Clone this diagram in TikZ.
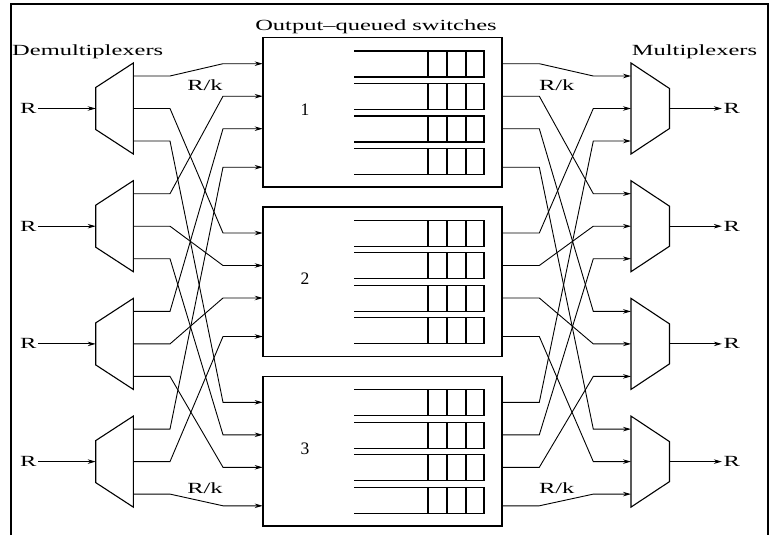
\documentclass[tikz,border=0pt]{standalone}
\usepackage{fontspec}
\setmainfont{Liberation Serif}
\usepackage{graphicx}
\usetikzlibrary{arrows.meta}

\newcommand{\wtext}[1]{\scalebox{1.58}[1]{#1}}

\begin{document}
\begin{tikzpicture}[x=1pt, y=-1pt, >={Stealth[length=8pt,width=4.5pt]},
        link/.style={->, line width=0.9pt},
        lbl/.style={inner sep=0pt, font=\fontsize{15.5}{18}\selectfont},
        switchbox/.style={draw, line width=1.6pt, minimum width=239.3pt, minimum height=149.5pt, inner sep=0pt}]
        \useasboundingbox (0,0) rectangle (770,535);

        \def\dmL{95.7}
        \def\dmR{133.3}
        \def\mxL{631}
        \def\mxR{669.5}
        \def\swL{262.7}
        \def\swR{502}
        \def\pitch{32.5}

        % frame, open at the bottom
        \draw[line width=2pt] (11,535) -- (11,4) -- (767.5,4) -- (767.5,535);

        \node[lbl, anchor=base west] (demux) at (12,56) {\wtext{Demultiplexers}};
        \node[lbl, anchor=base west] (mux) at (631.7,56) {\wtext{Multiplexers}};
        \node[lbl, anchor=base] (title) at (376,31) {\wtext{Output--queued switches}};

        % switches with their output queues
        \foreach \j/\ty in {1/37.7, 2/207, 3/376.3} {
            \node[switchbox] (sw\j) at ({(\swL+\swR)/2},{\ty+74.75}) {};
            \node[inner sep=0pt, font=\fontsize{17.5}{20}\selectfont] (num\j) at (305,{\ty+72}) {\j};
            \foreach \k in {0,...,3} {
                \pgfmathsetmacro\qt{\ty+13.3+\pitch*\k}
                \draw[line width=1.2pt] (354,\qt) -- (484,\qt) -- (484,{\qt+26}) -- (354,{\qt+26});
                \foreach \x in {428,447,466}
                    \draw[line width=1.2pt] (\x,\qt) -- (\x,{\qt+26});
            }
            \foreach \i/\o in {1/26, 2/58.5, 3/91, 4/129.5} {
                \coordinate (sin\j\i) at (\swL,{\ty+\o});
                \coordinate (sout\j\i) at (\swR,{\ty+\o});
            }
        }

        % demultiplexers and multiplexers
        \foreach \i/\cy in {1/108.5, 2/226.2, 3/343.9, 4/461.6} {
            \draw[line width=1.1pt] (\dmL,{\cy-21}) -- (\dmR,{\cy-45.5}) -- (\dmR,{\cy+45.5}) -- (\dmL,{\cy+21}) -- cycle;
            \draw[line width=1.1pt] (\mxL,{\cy-45.5}) -- (\mxR,{\cy-20}) -- (\mxR,{\cy+20}) -- (\mxL,{\cy+45.5}) -- cycle;
            \coordinate (dmin\i) at (\dmL,\cy);
            \coordinate (mxout\i) at (\mxR,\cy);
            \foreach \j/\o in {1/-32.5, 2/0, 3/32.5} {
                \coordinate (d\i\j) at (\dmR,{\cy+\o});
                \coordinate (m\i\j) at (\mxL,{\cy+\o});
            }
            \node[lbl, inner xsep=1.5pt] (rin\i) at (28.3,\cy) {\wtext{R}};
            \node[lbl, inner xsep=1.5pt] (rout\i) at (731.7,\cy) {\wtext{R}};
            \draw[link] (rin\i) -- (dmin\i);
            \draw[link] (mxout\i) -- (rout\i);
        }

        % demux i, line j -> switch j, input i -> mux i, line j
        \foreach \i in {1,...,4} {
            \foreach \j in {1,2,3} {
                \draw[link] (d\i\j) -- ([xshift=36.7pt]d\i\j) -- ([xshift=-39.7pt]sin\j\i) -- (sin\j\i);
                \draw[link] (sout\j\i) -- ([xshift=37.3pt]sout\j\i) -- ([xshift=-37.7pt]m\i\j) -- (m\i\j);
            }
        }

        \node[lbl, anchor=base] (rk1) at (205,90) {\wtext{R/k}};
        \node[lbl, anchor=base] (rk2) at (205,493) {\wtext{R/k}};
        \node[lbl, anchor=base] (rk3) at (556.7,90) {\wtext{R/k}};
        \node[lbl, anchor=base] (rk4) at (556.7,493) {\wtext{R/k}};
    \end{tikzpicture}
\end{document}
